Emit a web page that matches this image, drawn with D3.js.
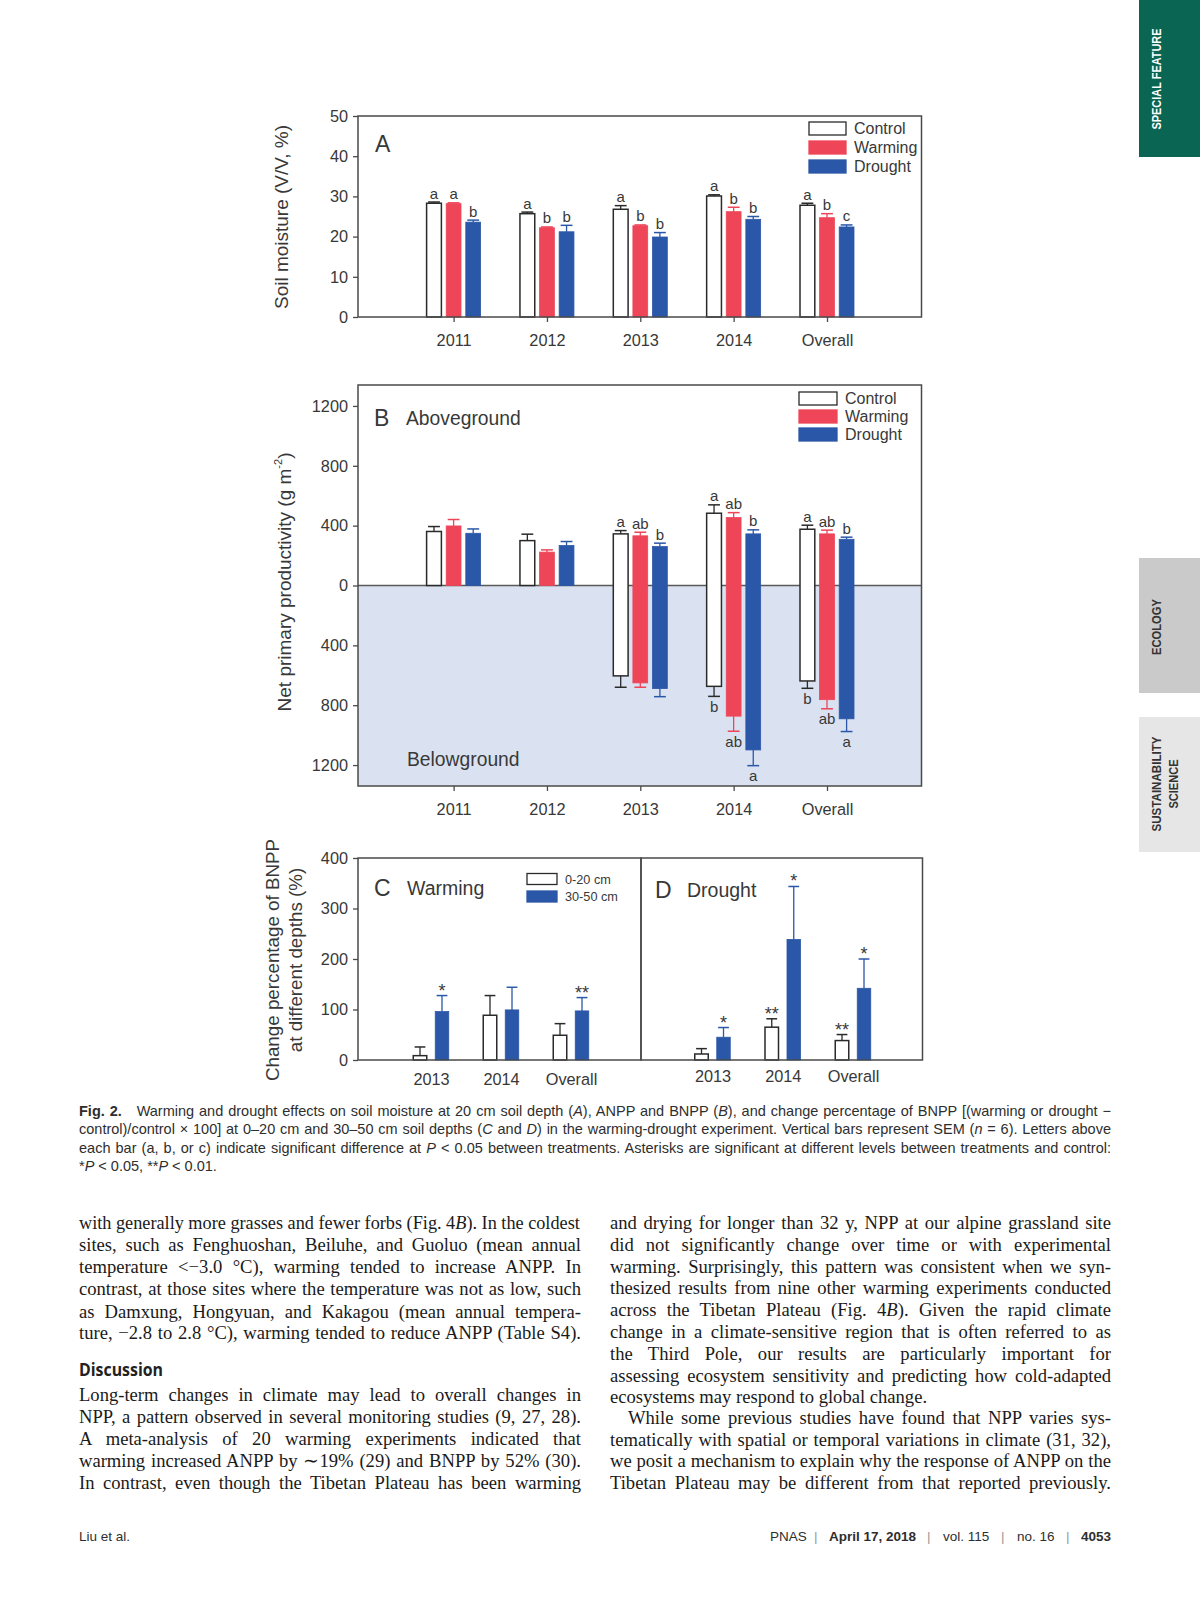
<!DOCTYPE html>
<html>
<head>
<meta charset="utf-8">
<script src="https://cdn.jsdelivr.net/npm/d3@7"></script>
<style>
  body { margin: 0; background: #fff; }
  svg text { font-family: "Liberation Sans", Arial, sans-serif; fill: #383838; white-space: pre; }
  svg text.serif { font-family: "Liberation Serif", "Times New Roman", serif; fill: #1a1a1a; }
  svg text.narrow { font-family: "Liberation Sans Narrow", "Liberation Sans", sans-serif; fill: #2e2e2e; }
</style>
</head>
<body>
<svg id="page" width="1200" height="1606"></svg>
<script>
/* ---- data ---- */
var catsA = ["2011", "2012", "2013", "2014", "Overall"];
var treatLabels = ["Control", "Warming", "Drought"];

// A: soil moisture (V/V, %)
var moistControl   = [28.3, 25.7, 26.8, 30.1, 27.8];
var moistControlSE = [0.3, 0.4, 0.9, 0.3, 0.5];
var moistWarming   = [28.2, 22.2, 22.7, 26.2, 24.7];
var moistWarmingSE = [0.2, 0.2, 0.2, 1.1, 1.0];
var moistDrought   = [23.6, 21.2, 19.9, 24.3, 22.4];
var moistDroughtSE = [0.5, 1.6, 1.1, 0.7, 0.5];
var moistControlSig = ["a", "a", "a", "a", "a"];
var moistWarmingSig = ["a", "b", "b", "b", "b"];
var moistDroughtSig = ["b", "b", "b", "b", "c"];
var moistTicks = [0, 10, 20, 30, 40, 50];

// B: aboveground NPP (g m-2)
var anppControl   = [361, 300, 345, 483, 376];
var anppControlSE = [33, 43, 22, 56, 27];
var anppWarming   = [398, 223, 332, 454, 345];
var anppWarmingSE = [43, 15, 24, 33, 25];
var anppDrought   = [349, 267, 260, 345, 309];
var anppDroughtSE = [29, 27, 23, 27, 14];
var anppControlSig = ["", "", "a", "a", "a"];
var anppWarmingSig = ["", "", "ab", "ab", "ab"];
var anppDroughtSig = ["", "", "b", "b", "b"];

// B: belowground NPP (g m-2), not measured 2011-2012
var bnppControl   = [null, null, 604, 674, 638];
var bnppControlSE = [null, null, 76, 67, 49];
var bnppWarming   = [null, null, 651, 873, 763];
var bnppWarmingSE = [null, null, 29, 101, 61];
var bnppDrought   = [null, null, 689, 1099, 891];
var bnppDroughtSE = [null, null, 54, 105, 85];
var bnppControlSig = ["", "", "", "b", "b"];
var bnppWarmingSig = ["", "", "", "ab", "ab"];
var bnppDroughtSig = ["", "", "", "a", "a"];
var nppTicks = [-1200, -800, -400, 0, 400, 800, 1200];

// C, D: change percentage of BNPP (%)
var depthCats = ["2013", "2014", "Overall"];
var depthLabels = ["0-20 cm", "30-50 cm"];
var warmShallow   = [8.6, 88.6, 49.0];
var warmShallowSE = [17.2, 39.0, 23.0];
var warmDeep      = [95.9, 99.2, 97.2];
var warmDeepSE    = [31.7, 44.8, 26.4];
var warmShallowSig = ["", "", ""];
var warmDeepSig    = ["*", "", "**"];
var drouShallow   = [11.9, 65.0, 38.5];
var drouShallowSE = [10.6, 16.6, 11.9];
var drouDeep      = [45.1, 238.8, 142.0];
var drouDeepSE    = [19.2, 104.8, 58.0];
var drouShallowSig = ["", "**", "**"];
var drouDeepSig    = ["*", "*", "*"];
var pctTicks = [0, 100, 200, 300, 400];

/* ---- styles ---- */
var RED = "#ee4558", BLUE = "#2b57a8", INK = "#2a2a2a", AXIS = "#4a4a4a";
var TICK_FS = 16.3, YLAB_FS = 19, SIG_FS = 15;
var svg = d3.select("#page");

function frame(g, x0, x1, y0, y1) {
  g.append("rect").attr("x", x0).attr("y", y0).attr("width", x1 - x0).attr("height", y1 - y0)
    .attr("fill", "none").attr("stroke", AXIS).attr("stroke-width", 1.5);
}

function styleAxis(sel) {
  sel.select(".domain").remove();
  sel.selectAll("line").attr("stroke", AXIS).attr("stroke-width", 1.3);
  sel.selectAll("text").attr("font-size", TICK_FS).attr("fill", "#3a3a3a").attr("font-family", null);
}

// error bars (+ optional bars) + significance marks for one series
function drawSeries(g, x, y, cats, vals, se, sig, s) {
  var rows = cats.map(function (c, i) {
    return { c: c, v: vals[i], e: se[i], m: sig[i] };
  }).filter(function (d) { return d.v != null; });

  var gg = g.append("g");
  gg.selectAll(".eb").data(rows).join("line")
    .attr("x1", function (d) { return x(d.c) + s.off; })
    .attr("x2", function (d) { return x(d.c) + s.off; })
    .attr("y1", function (d) { return y(s.sign * d.v); })
    .attr("y2", function (d) { return y(s.sign * (d.v + d.e)); })
    .attr("stroke", s.err).attr("stroke-width", 1.3);
  gg.selectAll(".cap").data(rows).join("line")
    .attr("x1", function (d) { return x(d.c) + s.off - s.w * 0.4; })
    .attr("x2", function (d) { return x(d.c) + s.off + s.w * 0.4; })
    .attr("y1", function (d) { return y(s.sign * (d.v + d.e)); })
    .attr("y2", function (d) { return y(s.sign * (d.v + d.e)); })
    .attr("stroke", s.err).attr("stroke-width", 1.5);
  if (s.rect !== false) {
    gg.selectAll("rect").data(rows).join("rect")
      .attr("x", function (d) { return x(d.c) + s.off - s.w / 2; })
      .attr("y", function (d) { return Math.min(y(0), y(s.sign * d.v)); })
      .attr("width", s.w)
      .attr("height", function (d) { return Math.abs(y(s.sign * d.v) - y(0)); })
      .attr("fill", s.fill).attr("stroke", s.stroke).attr("stroke-width", s.sw);
  }
  gg.selectAll("text").data(rows.filter(function (d) { return d.m; })).join("text")
    .attr("x", function (d) { return x(d.c) + s.off; })
    .attr("y", function (d) {
      var ye = y(s.sign * (d.v + d.e));
      return s.sign > 0 ? ye - s.gap : ye + s.gapBelow;
    })
    .attr("text-anchor", "middle").attr("font-size", s.fs)
    .text(function (d) { return d.m; });
}

function legend(g, x, ys, labels, kinds, bw, bh, fs) {
  labels.forEach(function (lab, i) {
    var k = kinds[i];
    g.append("rect").attr("x", x).attr("y", ys[i] - bh / 2).attr("width", bw).attr("height", bh)
      .attr("fill", k.fill).attr("stroke", k.stroke).attr("stroke-width", 1.3);
    g.append("text").attr("x", x + bw + 8).attr("y", ys[i] + fs * 0.36)
      .attr("font-size", fs).text(lab);
  });
}

function vlabel(g, cx, cy, txt, fs) {
  return g.append("text").attr("transform", "translate(" + cx + "," + cy + ") rotate(-90)")
    .attr("text-anchor", "middle").attr("dominant-baseline", "middle").attr("font-size", fs).text(txt);
}

var kindsA = [
  { fill: "#fff", stroke: INK, err: INK, sw: 1.5 },
  { fill: RED, stroke: RED, err: RED, sw: 0.8 },
  { fill: BLUE, stroke: BLUE, err: BLUE, sw: 0.8 }
];

/* ---- panel A ---- */
(function () {
  var L = 358, R = 921.5, T = 116, B = 317;
  var g = svg.append("g");
  var x = d3.scalePoint().domain(catsA).range([453.6, 827]);
  var y = d3.scaleLinear().domain([0, 50]).range([B, T]);
  var pitch = 19.6, bw = 14.8;
  var vals = [moistControl, moistWarming, moistDrought];
  var ses = [moistControlSE, moistWarmingSE, moistDroughtSE];
  var sigs = [moistControlSig, moistWarmingSig, moistDroughtSig];
  vals.forEach(function (v, i) {
    var k = kindsA[i];
    drawSeries(g, x, y, catsA, v, ses[i], sigs[i],
      { off: (i - 1) * pitch, w: bw, fill: k.fill, stroke: k.stroke, err: k.err, sw: k.sw,
        sign: 1, fs: SIG_FS, gap: 3.5 });
  });
  frame(g, L, R, T, B);
  g.append("g").attr("transform", "translate(" + L + ",0)")
    .call(d3.axisLeft(y).tickValues(moistTicks).tickSize(5).tickPadding(5).tickSizeOuter(0))
    .call(styleAxis);
  g.append("g").attr("transform", "translate(0," + B + ")")
    .call(d3.axisBottom(x).tickSize(5).tickPadding(12.5).tickSizeOuter(0))
    .call(styleAxis);
  vlabel(g, 283, 217, "Soil moisture (V/V, %)", YLAB_FS);
  g.append("text").attr("x", 375).attr("y", 152).attr("font-size", 23).text("A");
  legend(g, 809, [128.5, 147.5, 166.5], treatLabels, kindsA, 37, 13, 16);
})();

/* ---- panel B ---- */
(function () {
  var L = 358, R = 921.5, T = 385, B = 786;
  var g = svg.append("g");
  var x = d3.scalePoint().domain(catsA).range([453.6, 827]);
  var y = d3.scaleLinear().domain([-1340, 1340]).range([B, T]);
  g.append("rect").attr("x", L).attr("y", y(0)).attr("width", R - L).attr("height", B - y(0))
    .attr("fill", "#dae2f1");
  g.append("line").attr("x1", L).attr("x2", R).attr("y1", y(0)).attr("y2", y(0))
    .attr("stroke", "#5a5a5a").attr("stroke-width", 1.5);
  var pitch = 19.6, bw = 14.8;
  var above = [[anppControl, anppControlSE, anppControlSig], [anppWarming, anppWarmingSE, anppWarmingSig],
               [anppDrought, anppDroughtSE, anppDroughtSig]];
  var below = [[bnppControl, bnppControlSE, bnppControlSig], [bnppWarming, bnppWarmingSE, bnppWarmingSig],
               [bnppDrought, bnppDroughtSE, bnppDroughtSig]];
  above.forEach(function (a, i) {
    var k = kindsA[i], b = below[i], off = (i - 1) * pitch;
    // one continuous bar from ANPP (up) to BNPP (down)
    g.append("g").selectAll("rect").data(catsA).join("rect")
      .attr("x", function (c) { return x(c) + off - bw / 2; })
      .attr("y", function (c, j) { return y(a[0][j]); })
      .attr("width", bw)
      .attr("height", function (c, j) { return y(-(b[0][j] || 0)) - y(a[0][j]); })
      .attr("fill", k.fill).attr("stroke", k.stroke).attr("stroke-width", k.sw);
    drawSeries(g, x, y, catsA, a[0], a[1], a[2],
      { off: off, w: bw, err: k.err, rect: false, sign: 1, fs: SIG_FS, gap: 3.5 });
    drawSeries(g, x, y, catsA, b[0], b[1], b[2],
      { off: off, w: bw, err: k.err, rect: false, sign: -1, fs: SIG_FS, gapBelow: 15.5 });
  });
  frame(g, L, R, T, B);
  g.append("g").attr("transform", "translate(" + L + ",0)")
    .call(d3.axisLeft(y).tickValues(nppTicks).tickSize(5).tickPadding(5).tickSizeOuter(0)
      .tickFormat(function (d) { return Math.abs(d); }))
    .call(styleAxis);
  g.append("g").attr("transform", "translate(0," + B + ")")
    .call(d3.axisBottom(x).tickSize(5).tickPadding(12.5).tickSizeOuter(0))
    .call(styleAxis);
  var yl = vlabel(g, 286, 582, "", YLAB_FS);
  yl.append("tspan").text("Net primary productivity (g m");
  yl.append("tspan").attr("font-size", 11).attr("dy", -7).text("-2");
  yl.append("tspan").attr("dy", 7).text(")");
  g.append("text").attr("x", 374).attr("y", 426).attr("font-size", 23).text("B");
  g.append("text").attr("x", 406).attr("y", 424.5).attr("font-size", 19.3).text("Aboveground");
  g.append("text").attr("x", 407).attr("y", 765.5).attr("font-size", 19.3).text("Belowground");
  legend(g, 799, [398.5, 416.5, 434.5], treatLabels, kindsA, 38, 13, 16);
})();

/* ---- panels C and D ---- */
(function () {
  var L = 358, M = 641, R = 922.5, T = 858, B = 1060;
  var g = svg.append("g");
  var y = d3.scaleLinear().domain([0, 400]).range([B, T]);
  var xc = d3.scalePoint().domain(depthCats).range([431, 571]);
  var xd = d3.scalePoint().domain(depthCats).range([712.5, 853]);
  var bw = 13.5, pitch = 22;
  var white = { fill: "#fff", stroke: INK, err: INK, sw: 1.5 };
  var blue = { fill: BLUE, stroke: BLUE, err: BLUE, sw: 0.8 };
  function pair(x, sh, shSE, shSig, dp, dpSE, dpSig) {
    drawSeries(g, x, y, depthCats, sh, shSE, shSig,
      { off: -pitch / 2, w: bw, fill: white.fill, stroke: white.stroke, err: white.err, sw: white.sw,
        sign: 1, fs: 18, gap: -1 });
    drawSeries(g, x, y, depthCats, dp, dpSE, dpSig,
      { off: pitch / 2, w: bw, fill: blue.fill, stroke: blue.stroke, err: blue.err, sw: blue.sw,
        sign: 1, fs: 18, gap: -1 });
  }
  pair(xc, warmShallow, warmShallowSE, warmShallowSig, warmDeep, warmDeepSE, warmDeepSig);
  pair(xd, drouShallow, drouShallowSE, drouShallowSig, drouDeep, drouDeepSE, drouDeepSig);
  frame(g, L, M, T, B);
  frame(g, M, R, T, B);
  g.append("g").attr("transform", "translate(" + L + ",0)")
    .call(d3.axisLeft(y).tickValues(pctTicks).tickSize(5).tickPadding(5).tickSizeOuter(0))
    .call(styleAxis);
  g.append("g").attr("transform", "translate(0," + B + ")")
    .call(d3.axisBottom(xc).tickSize(0).tickPadding(13.5).tickSizeOuter(0))
    .call(styleAxis);
  g.append("g").attr("transform", "translate(0," + B + ")")
    .call(d3.axisBottom(xd).tickSize(0).tickPadding(10.5).tickSizeOuter(0))
    .call(styleAxis);
  vlabel(g, 274, 960, "Change percentage of BNPP", 18.8);
  vlabel(g, 297, 960, "at different depths (%)", 18.8);
  g.append("text").attr("x", 374).attr("y", 896).attr("font-size", 23).text("C");
  g.append("text").attr("x", 407).attr("y", 895).attr("font-size", 19.5).text("Warming");
  g.append("text").attr("x", 655).attr("y", 898).attr("font-size", 23).text("D");
  g.append("text").attr("x", 687).attr("y", 897).attr("font-size", 19.5).text("Drought");
  legend(g, 527, [879, 896.5], depthLabels, [white, blue], 30, 11, 12.7);
})();

/* ---- page furniture: tabs, caption, body text, footer ---- */
function rich(g, x, y, str, cls, fs) {
  var t = g.append("text").attr("x", x).attr("y", y).attr("font-size", fs);
  if (cls) t.attr("class", cls);
  str.split(/(<[ib]>.*?<\/[ib]>)/).forEach(function (p) {
    if (!p) return;
    var m = p.match(/^<([ib])>(.*)<\/[ib]>$/);
    var ts = t.append("tspan").text(m ? m[2] : p);
    if (m && m[1] === "i") ts.attr("font-style", "italic");
    if (m && m[1] === "b") ts.attr("font-weight", "bold");
  });
  return t;
}

// justify a line to width w by word spacing; shrink the font a touch if it is too long
function justify(t, w) {
  var nat = t.node().getComputedTextLength();
  var spaces = (t.text().match(/ /g) || []).length;
  if (nat > w) {
    t.attr("font-size", (+t.attr("font-size")) * w / nat * 0.998);
  } else if (spaces) {
    t.attr("word-spacing", (w - nat) / spaces);
  }
}

var tabs = svg.append("g");
tabs.append("rect").attr("x", 1139).attr("y", 0).attr("width", 61).attr("height", 157).attr("fill", "#0a6552");
tabs.append("rect").attr("x", 1139).attr("y", 558).attr("width", 61).attr("height", 135).attr("fill", "#cacaca");
tabs.append("rect").attr("x", 1139).attr("y", 717).attr("width", 61).attr("height", 135).attr("fill", "#e6e6e6");
function tabText(cx, cy, txt, len, col) {
  tabs.append("text").attr("class", "narrow")
    .attr("transform", "translate(" + cx + "," + cy + ") rotate(-90)")
    .attr("text-anchor", "middle").attr("dominant-baseline", "middle")
    .attr("font-size", 13.5).attr("font-weight", "bold").style("fill", col)
    .attr("textLength", len).attr("lengthAdjust", "spacingAndGlyphs").text(txt);
}
tabText(1157, 79, "SPECIAL FEATURE", 101, "#ffffff");
tabText(1157, 627, "ECOLOGY", 56, "#333");
tabText(1157, 784, "SUSTAINABILITY", 95, "#333");
tabText(1174, 784, "SCIENCE", 49, "#333");

var caption = svg.append("g");
var capLines = [
  "<b>Fig. 2.</b>   Warming and drought effects on soil moisture at 20 cm soil depth (<i>A</i>), ANPP and BNPP (<i>B</i>), and change percentage of BNPP [(warming or drought \u2212",
  "control)/control \u00d7 100] at 0\u201320 cm and 30\u201350 cm soil depths (<i>C</i> and <i>D</i>) in the warming-drought experiment. Vertical bars represent SEM (<i>n</i> = 6). Letters above",
  "each bar (a, b, or c) indicate significant difference at <i>P</i> < 0.05 between treatments. Asterisks are significant at different levels between treatments and control:",
  "*<i>P</i> < 0.05, **<i>P</i> < 0.01."
];
capLines.forEach(function (s, i) {
  var t = rich(caption, 79, 1116 + i * 18.4, s, "narrow", 14.5);
  if (i < 3) justify(t, 1032);
});

var body = svg.append("g");
var leftCol = [
  ["with generally more grasses and fewer forbs (Fig. 4<i>B</i>). In the coldest", 1229, 1],
  ["sites, such as Fenghuoshan, Beiluhe, and Guoluo (mean annual", 1251, 1],
  ["temperature <\u22123.0 \u00b0C), warming tended to increase ANPP. In", 1273.3, 1],
  ["contrast, at those sites where the temperature was not as low, such", 1295, 1],
  ["as Damxung, Hongyuan, and Kakagou (mean annual tempera-", 1317.7, 1],
  ["ture, \u22122.8 to 2.8 \u00b0C), warming tended to reduce ANPP (Table S4).", 1339.3, 1],
  ["Long-term changes in climate may lead to overall changes in", 1401, 1],
  ["NPP, a pattern observed in several monitoring studies (9, 27, 28).", 1423.3, 1],
  ["A meta-analysis of 20 warming experiments indicated that", 1445, 1],
  ["warming increased ANPP by \u223c19% (29) and BNPP by 52% (30).", 1467.3, 1],
  ["In contrast, even though the Tibetan Plateau has been warming", 1489.3, 1]
];
var rightCol = [
  ["and drying for longer than 32 y, NPP at our alpine grassland site", 1229, 1],
  ["did not significantly change over time or with experimental", 1251, 1],
  ["warming. Surprisingly, this pattern was consistent when we syn-", 1273.3, 1],
  ["thesized results from nine other warming experiments conducted", 1294.3, 1],
  ["across the Tibetan Plateau (Fig. 4<i>B</i>). Given the rapid climate", 1316, 1],
  ["change in a climate-sensitive region that is often referred to as", 1338.3, 1],
  ["the Third Pole, our results are particularly important for", 1360, 1],
  ["assessing ecosystem sensitivity and predicting how cold-adapted", 1381.7, 1],
  ["ecosystems may respond to global change.", 1403.3, 0],
  ["While some previous studies have found that NPP varies sys-", 1424, 2],
  ["tematically with spatial or temporal variations in climate (31, 32),", 1445.7, 1],
  ["we posit a mechanism to explain why the response of ANPP on the", 1467.3, 1],
  ["Tibetan Plateau may be different from that reported previously.", 1489.3, 1]
];
function column(lines, x0, w) {
  lines.forEach(function (l) {
    var ind = l[2] === 2 ? 18 : 0;
    var t = rich(body, x0 + ind, l[1], l[0], "serif", 18.6);
    if (l[2]) justify(t, w - ind);
  });
}
column(leftCol, 79, 502);
column(rightCol, 610, 501);
body.append("text").attr("x", 79).attr("y", 1376).attr("font-size", 17.5)
  .attr("font-weight", "bold").style("font-family", "'Open Sans', sans-serif").style("fill", "#222")
  .attr("textLength", 84).attr("lengthAdjust", "spacingAndGlyphs")
  .text("Discussion");

var foot = svg.append("g");
function footText(x, txt, bold, col) {
  foot.append("text").attr("class", "narrow").attr("x", x).attr("y", 1541).attr("font-size", 13.5)
    .attr("font-weight", bold ? "bold" : null).style("fill", col || "#2e2e2e").text(txt);
}
footText(79, "Liu et al.");
footText(770, "PNAS");
footText(814, "|", false, "#999");
footText(829, "April 17, 2018", true);
footText(927, "|", false, "#999");
footText(943, "vol. 115");
footText(1001, "|", false, "#999");
footText(1017, "no. 16");
footText(1066, "|", false, "#999");
footText(1081, "4053", true);
</script>
</body>
</html>
